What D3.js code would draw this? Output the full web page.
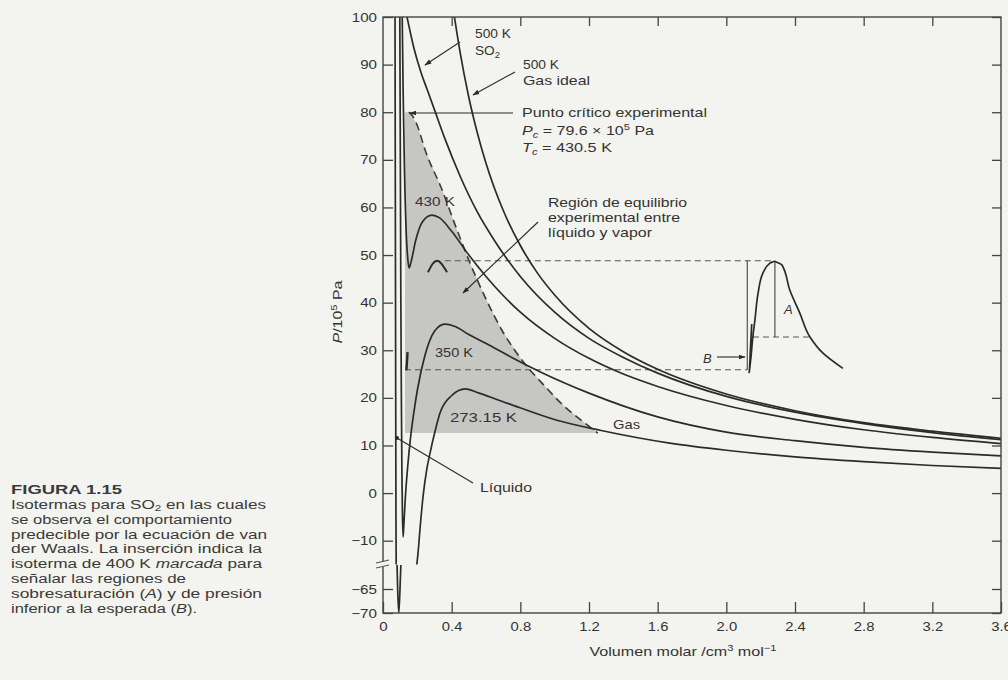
<!DOCTYPE html>
<html>
<head>
<meta charset="utf-8">
<script src="https://cdn.jsdelivr.net/npm/d3@7"></script>
<style>
  body { margin: 0; background: #f3f3ef; }
  svg { display: block; font-family: "Liberation Sans", Arial, sans-serif; }
</style>
</head>
<body>
<svg id="chart" width="1008" height="680"></svg>
<script>
// ---- Isotherms of SO2, molar volume (V) vs pressure (P / 10^5 Pa) ----
const isoIdeal500 = [[0.416,100],[0.45,92.4],[0.5,83.1],[0.55,75.6],[0.6,69.3],[0.7,59.4],[0.8,52],[0.9,46.2],[1.0,41.6],[1.2,34.6],[1.4,29.7],[1.6,26],[2.0,20.8],[2.4,17.3],[2.8,14.8],[3.2,13],[3.6,11.5]];
const iso500 = [[0.14,100],[0.18,93.5],[0.22,88.5],[0.26,84.5],[0.3,80.5],[0.36,74.5],[0.45,66.5],[0.55,59],[0.65,53],[0.8,45.5],[1.0,38],[1.2,32.5],[1.4,28.5],[1.6,25.2],[2.0,20.3],[2.4,17],[2.8,14.6],[3.2,12.7],[3.6,11.2]];
const iso430 = [[0.112,100],[0.117,85],[0.125,68],[0.135,55],[0.145,49],[0.152,47.3],[0.165,48.8],[0.19,53],[0.23,57],[0.285,58.4],[0.33,57.8],[0.4,55],[0.5,50],[0.6,45.5],[0.7,41.5],[0.8,38],[1.0,32.5],[1.2,28.3],[1.4,25],[1.6,22.4],[2.0,18.4],[2.4,15.5],[2.8,13.3],[3.2,11.7],[3.6,10.4]];
const iso350 = [[0.098,100],[0.101,70],[0.104,40],[0.107,20],[0.11,5],[0.113,-4],[0.117,-9.2],[0.121,-7],[0.13,-1],[0.145,6],[0.16,11.5],[0.18,17],[0.2,21.6],[0.245,29],[0.3,34],[0.36,35.5],[0.42,35],[0.5,33.3],[0.623,31],[0.75,28.5],[0.914,25.5],[1.2,21],[1.6,16],[2.0,12.8],[2.4,11],[2.8,9.6],[3.2,8.6],[3.6,7.8]];
const iso273 = [[0.07,100],[0.072,60],[0.074,20],[0.0755,-5],[0.077,-16],[0.08,-55],[0.084,-63],[0.092,-70],[0.1,-64],[0.106,-58],[0.2,-14],[0.204,-12.6],[0.215,-7.8],[0.233,-0.8],[0.255,5],[0.274,8.4],[0.3,12.5],[0.332,16.8],[0.4,20.5],[0.48,21.9],[0.56,21],[0.722,18.9],[1.013,15.3],[1.264,13.2],[1.67,10.5],[2.0,9],[2.4,7.6],[2.8,6.6],[3.2,5.8],[3.6,5.2]];

// Experimental liquid–vapour boundary (right side of the dome) and shaded region
const domeRight = [[0.15,80],[0.17,79.3],[0.2,77.2],[0.245,72.1],[0.344,63.7],[0.431,55.3],[0.507,48.3],[0.594,41.2],[0.693,34.2],[0.81,27.9],[0.926,23.1],[1.06,18.1],[1.176,14.7],[1.252,12.6]];
const regionLeftV = 0.128;
const regionBottomP = 12.6;

// 400 K isotherm detail (inset)
const inset400 = [[2.148,35.5],[2.14,30],[2.133,25.2],[2.142,28],[2.155,33],[2.167,36.5],[2.185,42],[2.213,46.2],[2.254,48.3],[2.283,48.8],[2.324,47.9],[2.37,42.6],[2.428,37.8],[2.487,32.8],[2.563,29.4],[2.679,26.2]];
const insetTopP = 48.8, insetBottomP = 25.9, insetMidP = 32.8;
const insetLeftV = 2.122, insetPeakV = 2.283, insetMidStartV = 2.155, insetMidEndV = 2.487;
const upperDashStartV = 0.36, lowerDashStartV = 0.128;
const caretPts = [[0.262,46.4],[0.29,48.4],[0.315,49],[0.34,48.4],[0.373,46.4]];
const tickPts = [[0.143,29.6],[0.138,26.6],[0.136,25.8]];

// Axis ticks
const yTicksUpper = [-10,0,10,20,30,40,50,60,70,80,90,100];
const yTicksLower = [-65,-70];
const xTicks = [0,0.4,0.8,1.2,1.6,2.0,2.4,2.8,3.2,3.6];

const captionTitle = "FIGURA  1.15";
const captionLines = [
  "Isotermas para SO\u2082 en las cuales",
  "se observa el comportamiento",
  "predecible por la ecuación de van",
  "der Waals. La inserción indica la",
  "isoterma de 400 K marcada para",
  "señalar las regiones de",
  "sobresaturación (A) y de presión",
  "inferior a la esperada (B)."
];
const captionWidths = [255, 221, 256, 251, 251, 175, 251, 186];

// ---- layout ----
const svg = d3.select("#chart");
const L = 383, R = 1001, T = 17, B = 613, BREAK = 564.5;
const ink = "#2b2b2b";
const bg = "#f3f3ef";

const x = d3.scaleLinear().domain([0, 3.6]).range([L, R]);
const yUp = d3.scaleLinear().domain([-15, 100]).range([BREAK, T]);
const yLo = d3.scaleLinear().domain([-70, -60]).range([B, 565]);

const defs = svg.append("defs");
defs.append("clipPath").attr("id","clipUp").append("rect")
  .attr("x", L).attr("y", T).attr("width", R - L).attr("height", BREAK - T);
defs.append("clipPath").attr("id","clipLo").append("rect")
  .attr("x", L).attr("y", 565).attr("width", R - L).attr("height", B - 565);
const mk = defs.append("marker").attr("id","arrow").attr("viewBox","0 0 10 10")
  .attr("refX", 9).attr("refY", 5).attr("markerWidth", 7).attr("markerHeight", 7)
  .attr("orient","auto-start-reverse").attr("markerUnits","userSpaceOnUse");
mk.append("path").attr("d","M0,1.5 L10,5 L0,8.5 Z").attr("fill", ink);

const gUp = svg.append("g").attr("clip-path","url(#clipUp)");
const gLo = svg.append("g").attr("clip-path","url(#clipLo)");

// shaded equilibrium region
const last = domeRight[domeRight.length - 1];
gUp.append("path")
  .attr("d", d3.line().x(d => x(d[0])).y(d => yUp(d[1]))(
    [[regionLeftV, domeRight[0][1]], ...domeRight, [last[0], regionBottomP], [regionLeftV, regionBottomP]]))
  .attr("fill", "#c6c6c2").attr("stroke", "none");

// inset horizontal guide lines
const dashG = gUp.append("g").attr("stroke", "#555").attr("stroke-width", 1.1).attr("stroke-dasharray", "6,4").attr("fill","none");
dashG.append("line").attr("x1", x(upperDashStartV)).attr("x2", x(insetPeakV)).attr("y1", yUp(insetTopP)).attr("y2", yUp(insetTopP));
dashG.append("line").attr("x1", x(lowerDashStartV)).attr("x2", x(insetLeftV)).attr("y1", yUp(insetBottomP)).attr("y2", yUp(insetBottomP));
dashG.append("line").attr("x1", x(insetMidStartV)).attr("x2", x(insetMidEndV)).attr("y1", yUp(insetMidP)).attr("y2", yUp(insetMidP));

// inset solid brackets
const solidG = gUp.append("g").attr("stroke", "#444").attr("stroke-width", 1.1);
solidG.append("line").attr("x1", x(insetLeftV)).attr("x2", x(insetLeftV)).attr("y1", yUp(insetTopP)).attr("y2", yUp(insetBottomP));
solidG.append("line").attr("x1", x(insetPeakV)).attr("x2", x(insetPeakV)).attr("y1", yUp(insetTopP)).attr("y2", yUp(insetMidP));

// dashed dome
gUp.append("path")
  .attr("d", d3.line().x(d => x(d[0])).y(d => yUp(d[1])).curve(d3.curveMonotoneX)(domeRight))
  .attr("fill","none").attr("stroke","#3a3a3a").attr("stroke-width",1.6).attr("stroke-dasharray","8,5");

// isotherms, drawn in both axis segments
const isotherms = [isoIdeal500, iso500, iso430, iso350, iso273];
const lineUp = d3.line().x(d => x(d[0])).y(d => yUp(d[1])).curve(d3.curveMonotoneX);
const lineLo = d3.line().x(d => x(d[0])).y(d => yLo(d[1])).curve(d3.curveMonotoneX);
isotherms.forEach(iso => {
  gUp.append("path").attr("d", lineUp(iso)).attr("fill","none").attr("stroke",ink).attr("stroke-width",1.7);
  gLo.append("path").attr("d", lineLo(iso)).attr("fill","none").attr("stroke",ink).attr("stroke-width",1.7);
});
gUp.append("path").attr("d", d3.line().x(d => x(d[0])).y(d => yUp(d[1])).curve(d3.curveMonotoneY)(inset400))
  .attr("fill","none").attr("stroke",ink).attr("stroke-width",1.7);
gUp.append("path").attr("d", d3.line().x(d => x(d[0])).y(d => yUp(d[1])).curve(d3.curveBasis)(caretPts))
  .attr("fill","none").attr("stroke",ink).attr("stroke-width",2);
gUp.append("path").attr("d", d3.line().x(d => x(d[0])).y(d => yUp(d[1]))(tickPts))
  .attr("fill","none").attr("stroke",ink).attr("stroke-width",2.4);

// ---- frame and axes ----
svg.append("rect").attr("x", L).attr("y", T).attr("width", R - L).attr("height", B - T)
  .attr("fill","none").attr("stroke","#444").attr("stroke-width",1.4);

// width of a numeric label as typeset in the figure
const labelWidth = s => [...s].reduce((w, c) => w + (c === "." ? 3.8 : c === "\u2212" ? 9 : 8.4), 0);
function styleAxis(g) {
  g.select(".domain").remove();
  g.selectAll(".tick line").attr("stroke","#444").attr("stroke-width",1.3);
  g.selectAll(".tick text").attr("fill","#333").attr("font-size",12.5)
    .attr("font-family","Liberation Sans, Arial, sans-serif")
    .each(function() {
      const s = d3.select(this).text();
      if (s) d3.select(this).attr("textLength", labelWidth(s)).attr("lengthAdjust","spacingAndGlyphs");
    });
}
const fmtY = d => d < 0 ? "\u2212" + Math.abs(d) : String(d);
svg.append("g").attr("transform",`translate(${L},0)`)
  .call(d3.axisLeft(yUp).tickValues(yTicksUpper).tickSize(-10).tickPadding(6).tickFormat(fmtY)).call(styleAxis);
svg.append("g").attr("transform",`translate(${L},0)`)
  .call(d3.axisLeft(yLo).tickValues(yTicksLower).tickSize(-10).tickPadding(6).tickFormat(fmtY)).call(styleAxis);
svg.append("g").attr("transform",`translate(${R},0)`)
  .call(d3.axisRight(yUp).tickValues(yTicksUpper).tickSize(-9).tickFormat(() => "")).call(styleAxis);
svg.append("g").attr("transform",`translate(${R},0)`)
  .call(d3.axisRight(yLo).tickValues(yTicksLower).tickSize(-9).tickFormat(() => "")).call(styleAxis);
svg.append("g").attr("transform",`translate(0,${B})`)
  .call(d3.axisBottom(x).tickValues(xTicks).tickSize(-11).tickPadding(9).tickFormat(d => d === 0 ? "0" : d.toFixed(1))).call(styleAxis);
svg.append("g").attr("transform",`translate(0,${T})`)
  .call(d3.axisTop(x).tickValues(xTicks.slice(1, -1)).tickSize(-9).tickFormat(() => "")).call(styleAxis);

// axis break marks
svg.append("rect").attr("x", L - 2).attr("y", 562).attr("width", 4).attr("height", 5).attr("fill", bg);
svg.append("path").attr("d", `M${L-7},563 L${L+6},560 M${L-7},568 L${L+6},565`).attr("stroke","#555").attr("stroke-width",1.2);

// helper for stretched text
function putText(g, xPos, yPos, content, width, opts = {}) {
  const t = g.append("text").attr("x", xPos).attr("y", yPos);
  if (opts.html) t.html(content); else t.text(content);
  if (opts.anchor) t.attr("text-anchor", opts.anchor);
  if (opts.italic) t.attr("font-style", "italic");
  if (opts.bold) t.attr("font-weight", "bold");
  if (width) t.attr("textLength", width).attr("lengthAdjust", "spacingAndGlyphs");
  return t;
}

// axis titles
const axTitle = svg.append("g").attr("font-size",13).attr("fill","#333");
putText(axTitle.append("g").attr("transform","translate(342,312) rotate(-90)"), 0, 0,
  '<tspan font-style="italic">P</tspan>/10<tspan dy="-5" font-size="9">5</tspan><tspan dy="5"> Pa</tspan>', 63,
  {html: true, anchor: "middle"});
putText(axTitle, 683, 656,
  'Volumen molar /cm<tspan dy="-5" font-size="9">3</tspan><tspan dy="5"> mol</tspan><tspan dy="-5" font-size="9">\u22121</tspan>', 187,
  {html: true, anchor: "middle"});

// ---- annotations ----
const ann = svg.append("g").attr("font-size",13).attr("fill","#333");
putText(ann, 475, 38, "500 K", 36);
putText(ann, 475, 55, 'SO<tspan dy="3" font-size="9">2</tspan>', 25, {html: true});
putText(ann, 523, 69, "500 K", 36);
putText(ann, 523, 85, "Gas ideal", 67);
putText(ann, 522, 117, "Punto crítico experimental", 185);
putText(ann, 522, 135, '<tspan font-style="italic">P</tspan><tspan dy="3" font-size="9" font-style="italic">c</tspan><tspan dy="-3"> = 79.6 × 10</tspan><tspan dy="-5" font-size="9">5</tspan><tspan dy="5"> Pa</tspan>', 132, {html: true});
putText(ann, 522, 152, '<tspan font-style="italic">T</tspan><tspan dy="3" font-size="9" font-style="italic">c</tspan><tspan dy="-3"> = 430.5 K</tspan>', 90, {html: true});
putText(ann, 548, 207, "Región de equilibrio", 139);
putText(ann, 548, 222, "experimental entre", 132);
putText(ann, 548, 237, "líquido y vapor", 104);
putText(ann, 415, 206, "430 K", 40);
putText(ann, 435, 357, "350 K", 38);
putText(ann, 450, 422, "273.15 K", 67);
putText(ann, 613, 429, "Gas", 27);
putText(ann, 480, 492, "Líquido", 52);
putText(ann, 784, 314, "A", 0, {italic: true});
putText(ann, 703, 363, "B", 0, {italic: true});

const arrows = [
  [[460,42],[425,65]],
  [[515,72],[473,95]],
  [[513,113],[410,113]],
  [[538,222],[463,293]],
  [[717,357],[745,357]]
];
arrows.forEach(a => svg.append("line")
  .attr("x1",a[0][0]).attr("y1",a[0][1]).attr("x2",a[1][0]).attr("y2",a[1][1])
  .attr("stroke",ink).attr("stroke-width",1.1).attr("marker-end","url(#arrow)"));
svg.append("line").attr("x1",473).attr("y1",483).attr("x2",397).attr("y2",438)
  .attr("stroke",ink).attr("stroke-width",1.1);
svg.append("circle").attr("cx",397).attr("cy",438).attr("r",2).attr("fill",ink);

// ---- caption ----
const cap = svg.append("g").attr("fill","#3a3a3a").attr("font-size",12.5);
putText(cap, 11, 494, captionTitle, 111, {bold: true});
captionLines.forEach((t, i) => {
  const yy = 509 + i * 14.8;
  const w = captionWidths[i];
  if (t.includes("SO\u2082")) {
    putText(cap, 11, yy, 'Isotermas para SO<tspan dy="2" font-size="8.5">2</tspan><tspan dy="-2"> en las cuales</tspan>', w, {html: true});
  } else if (t.includes("(A)")) {
    putText(cap, 11, yy, 'sobresaturación (<tspan font-style="italic">A</tspan>) y de presión', w, {html: true});
  } else if (t.includes("(B)")) {
    putText(cap, 11, yy, 'inferior a la esperada (<tspan font-style="italic">B</tspan>).', w, {html: true});
  } else if (t.includes("400 K")) {
    putText(cap, 11, yy, 'isoterma de 400 K <tspan font-style="italic">marcada</tspan> para', w, {html: true});
  } else {
    putText(cap, 11, yy, t, w);
  }
});
</script>
</body>
</html>
